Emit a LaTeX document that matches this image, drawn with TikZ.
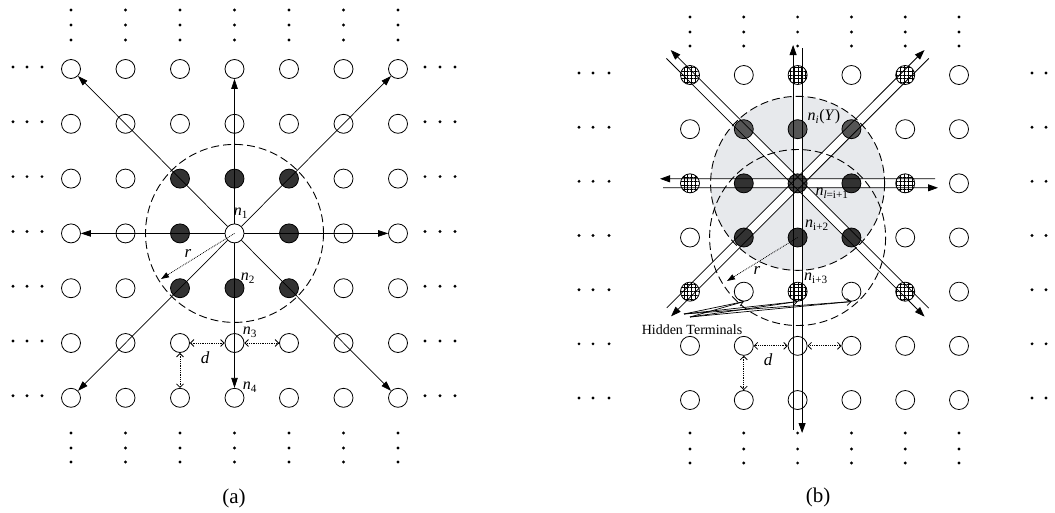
\documentclass[tikz,border=0pt]{standalone}
\usepackage{fontspec}
\setmainfont{Liberation Serif}
\usetikzlibrary{calc,arrows.meta,patterns.meta,backgrounds}
\definecolor{dkc}{RGB}{50,50,50}
\definecolor{dkl}{RGB}{85,85,85}
\definecolor{dkm}{RGB}{70,70,70}
\definecolor{gcol}{RGB}{231,233,236}
\newcommand\pipe[3]{%
  \coordinate (tmp) at ($(#1)!-3pt!(C)$);
  \draw[pl,-{Triangle[length=10pt,width=7pt]}] ($(C)!4.5pt!#2:(#1)$) -- ($(tmp)!4.5pt!#3:(C)$);
  \draw[pl] ($(C)!4.5pt!#3:(#1)$) -- ($(#1)!4.5pt!#2:(C)$);
}
\newcommand\sml[1]{\textsubscript{#1}}
\begin{document}
\begin{tikzpicture}[x=1pt,y=-1pt,
  nd/.style={circle,draw,line width=0.8pt,minimum size=19pt,inner sep=0pt,fill=white},
  dk/.style={nd,fill=dkc},
  dkb/.style={nd,fill=dkl},
  dkm/.style={nd,fill=dkm},
  hat/.style={nd,preaction={fill=white},pattern={Hatch[distance=3.8pt,angle=0,line width=0.9pt]}},
  lbl/.style={font=\fontsize{16}{16}\selectfont,inner sep=0pt},
  ar/.style={line width=0.7pt,-{Triangle[length=10pt,width=6.5pt]}},
  pl/.style={line width=0.8pt},
  dd/.style={densely dotted,line width=0.8pt,{Straight Barb[length=3.5pt,width=7pt]}-{Straight Barb[length=3.5pt,width=7pt]}},
  dcirc/.style={dash pattern=on 8pt off 4pt,line width=0.9pt},
  rar/.style={densely dotted,line width=0.8pt,-{Triangle[length=8pt,width=5.5pt]}},
]
\useasboundingbox (0,0) rectangle (1055,512);

% ---------------- panel (a) ----------------
\foreach \i in {0,...,6}{\foreach \j in {0,...,6}{
  \pgfmathtruncatemacro\isdk{(abs(\i-3)<=1)&&(abs(\j-3)<=1)&&!((\i==3)&&(\j==3))}
  \ifnum\isdk=1
    \node[dk] (L-\i-\j) at ({71+54.5*\i},{69+54.8*\j}) {};
  \else
    \node[nd] (L-\i-\j) at ({71+54.5*\i},{69+54.8*\j}) {};
  \fi
}}
% ellipsis dots
\foreach \i in {0,...,6}{
  \foreach \y in {10,25,40,433,448,462}{\fill ({71+54.5*\i},\y) circle (1.6);}
}
\foreach \j in {0,...,6}{
  \foreach \x in {13,27,42,425,440,455}{\fill (\x,{67+54.8*\j}) circle (1.6);}
}
% arrows from n1
\foreach \t in {L-0-0,L-3-0,L-6-0,L-0-3,L-6-3,L-0-6,L-3-6,L-6-6}{
  \draw[ar] (L-3-3) -- (\t);
}
\draw[dcirc] (L-3-3.center) circle (89);
\coordinate (rL) at (161,279);
\draw[rar] (L-3-3.center) -- (rL);
\node[lbl,font=\fontsize{17}{17}\selectfont\itshape] (rLt) at (188,253) {r};
\draw[dd] (L-2-5) -- (L-3-5);
\draw[dd] (L-3-5) -- (L-4-5);
\draw[dd] (L-2-5) -- (L-2-6);
\node[lbl,font=\fontsize{17}{17}\selectfont\itshape] (dL) at (205,358) {d};
\node[lbl] (n1) at (241,213) {\textit{n}\sml{1}};
\node[lbl] (n2) at (248,278) {\textit{n}\sml{2}};
\node[lbl] (n3) at (250,332) {\textit{n}\sml{3}};
\node[lbl] (n4) at (250,387) {\textit{n}\sml{4}};
\node[font=\fontsize{21}{21}\selectfont,inner sep=0pt] (capa) at (234,498) {(a)};

% ---------------- panel (b) ----------------
\foreach \i in {0,...,5}{\foreach \j in {0,...,6}{
  \pgfmathtruncatemacro\kind{((mod(\i,2)==0)&&(mod(\j,2)==0)&&(\i<=4)&&(\j<=4)&&!((\i==2)&&(\j==2)))*1
     + ((abs(\i-2)<=1)&&(\j==1))*2 + ((abs(\i-2)<=1)&&(\j>=2)&&(\j<=3)&&!((\i==2)&&(\j==2)))*3
     + ((\i==2)&&(\j==2))*4}
  \ifcase\kind
    \node[nd] (R-\i-\j) at ({690+53.8*\i},{75+54.17*\j}) {};
  \or
    \node[hat] (R-\i-\j) at ({690+53.8*\i},{75+54.17*\j}) {};
  \or
    \node[dkb] (R-\i-\j) at ({690+53.8*\i},{75+54.17*\j}) {};
  \or
    \node[dk] (R-\i-\j) at ({690+53.8*\i},{75+54.17*\j}) {};
  \or
    \node[dkm] (R-\i-\j) at ({690+53.8*\i},{75+54.17*\j}) {};
  \fi
}}
\coordinate (C) at (R-2-2.center);
\coordinate (eN) at (797.6,48);
\coordinate (eS) at (797.6,430);
\coordinate (eW) at (663,183.3);
\coordinate (eE) at (935,183.3);
\coordinate (eNW) at (669.6,55.3);
\coordinate (eNE) at (925.6,55.3);
\coordinate (eSW) at (670,311);
\coordinate (eSE) at (925.6,311.3);
\begin{scope}[on background layer]
  \fill[gcol] (C) circle (87);
  \foreach \e in {eN,eS,eW,eE,eNW,eNE,eSW,eSE}{\draw[white,line width=8.2pt] (C) -- (\e);}
\end{scope}
\draw[dcirc] (C) circle (87);
\draw[dcirc] (R-2-3.center) circle (88);
% dots
\foreach \i in {0,...,5}{
  \foreach \y in {17,32,46,433,449,463}{\fill ({690+53.8*\i},\y) circle (1.6);}
}
\foreach \j in {0,...,6}{
  \foreach \x in {579,593,609,1032,1046}{\fill (\x,{73+54.17*\j}) circle (1.6);}
}
% pipes
\pipe{eN}{90}{-90}
\pipe{eS}{90}{-90}
\pipe{eE}{-90}{90}
\pipe{eW}{-90}{90}
\pipe{eNW}{-90}{90}
\pipe{eNE}{90}{-90}
\pipe{eSW}{90}{-90}
\pipe{eSE}{-90}{90}
% r and d
\coordinate (rR) at (727,281);
\draw[rar] (R-2-3.center) -- (rR);
\node[lbl,font=\fontsize{17}{17}\selectfont\itshape] (rRt) at (757,270) {r};
\draw[dd] (R-1-5) -- (R-2-5);
\draw[dd] (R-2-5) -- (R-3-5);
\draw[dd] (R-1-5) -- (R-1-6);
\node[lbl,font=\fontsize{17}{17}\selectfont\itshape] (dR) at (768,360) {d};
% labels
\node[lbl] (ni) at (824,117) {\textit{n}\sml{\textit{i}}(\textit{Y})};
\node[lbl] (nl) at (832,193) {\textit{n}\sml{\textit{l}=i+1}};
\node[lbl] (ni2) at (817,225) {\textit{n}\sml{i+2}};
\node[lbl] (ni3) at (816,278) {\textit{n}\sml{i+3}};
% hidden terminals
\node[font=\fontsize{14}{14}\selectfont,inner sep=0pt] (ht) at (692,330) {Hidden Terminals};
\coordinate (hb1) at (684,314);
\coordinate (hb2) at (690,317);
\foreach \t in {R-1-4,R-2-4,R-3-4}{
  \draw[line width=0.7pt,-{Straight Barb[length=4pt,width=7pt]}] (hb1) -- (\t.south);
  \draw[line width=0.7pt] (hb2) -- (\t.south);
}
\node[font=\fontsize{21}{21}\selectfont,inner sep=0pt] (capb) at (818,497) {(b)};
\end{tikzpicture}
\end{document}
